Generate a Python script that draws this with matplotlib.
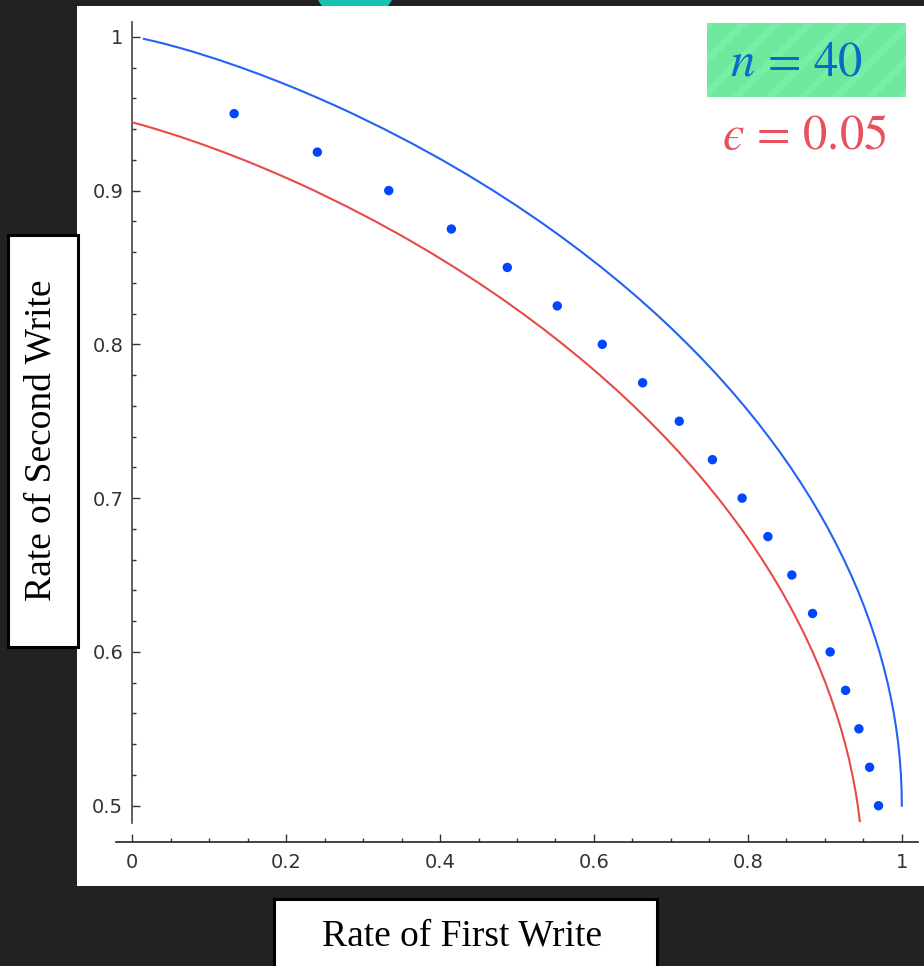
import numpy as np
import matplotlib.pyplot as plt
from matplotlib.patches import Rectangle, Ellipse
from matplotlib.ticker import FixedLocator, FixedFormatter

plt.rcParams['mathtext.fontset'] = 'stix'
plt.rcParams['hatch.linewidth'] = 5

W, H = 924, 966

# boundary of the two-write capacity region (rate of first write, rate of second write)
bound_x = [0.0153, 0.0295, 0.0454, 0.0637, 0.0808, 0.1124, 0.1414, 0.1687, 0.1944,
           0.2189, 0.2423, 0.2648, 0.2864, 0.3274, 0.3659, 0.4022, 0.4365, 0.4690,
           0.4999, 0.5294, 0.5574, 0.5842, 0.6098, 0.6343, 0.6577, 0.6801, 0.7015,
           0.7219, 0.7415, 0.7602, 0.7780, 0.7950, 0.8113, 0.8267, 0.8415, 0.8555,
           0.8687, 0.8813, 0.8932, 0.9044, 0.9149, 0.9248, 0.9341, 0.9427, 0.9507,
           0.9580, 0.9648, 0.9710, 0.9765, 0.9815, 0.9858, 0.9896, 0.9928, 0.9954,
           0.9974, 0.9988, 0.9997, 1.0]
bound_y = [0.9986, 0.997, 0.995, 0.9925, 0.99, 0.985, 0.98, 0.975, 0.97,
           0.965, 0.96, 0.955, 0.95, 0.94, 0.93, 0.92, 0.91, 0.90,
           0.89, 0.88, 0.87, 0.86, 0.85, 0.84, 0.83, 0.82, 0.81,
           0.80, 0.79, 0.78, 0.77, 0.76, 0.75, 0.74, 0.73, 0.72,
           0.71, 0.70, 0.69, 0.68, 0.67, 0.66, 0.65, 0.64, 0.63,
           0.62, 0.61, 0.60, 0.59, 0.58, 0.57, 0.56, 0.55, 0.54,
           0.53, 0.52, 0.51, 0.50]

# same boundary backed off by epsilon = 0.05
eps_x = [0.0, 0.0137, 0.0308, 0.0624, 0.0914, 0.1187, 0.1444, 0.1689, 0.1923,
         0.2148, 0.2364, 0.2774, 0.3159, 0.3522, 0.3865, 0.4190, 0.4499, 0.4794,
         0.5074, 0.5342, 0.5598, 0.5843, 0.6077, 0.6301, 0.6515, 0.6719, 0.6915,
         0.7102, 0.7280, 0.7450, 0.7613, 0.7767, 0.7915, 0.8055, 0.8187, 0.8313,
         0.8432, 0.8544, 0.8649, 0.8748, 0.8841, 0.8927, 0.9007, 0.9080, 0.9148,
         0.9210, 0.9265, 0.9315, 0.9358, 0.9396, 0.9428, 0.9454]
eps_y = [0.9444, 0.9425, 0.94, 0.935, 0.93, 0.925, 0.92, 0.915, 0.91,
         0.905, 0.90, 0.89, 0.88, 0.87, 0.86, 0.85, 0.84, 0.83,
         0.82, 0.81, 0.80, 0.79, 0.78, 0.77, 0.76, 0.75, 0.74,
         0.73, 0.72, 0.71, 0.70, 0.69, 0.68, 0.67, 0.66, 0.65,
         0.64, 0.63, 0.62, 0.61, 0.60, 0.59, 0.58, 0.57, 0.56,
         0.55, 0.54, 0.53, 0.52, 0.51, 0.50, 0.49]

# rates reached by the n = 40 construction
code_x = [0.1325, 0.2406, 0.3334, 0.4147, 0.4874, 0.5523, 0.6108, 0.6632, 0.7108,
          0.7539, 0.7925, 0.8260, 0.8571, 0.8840, 0.9069, 0.9269, 0.9442, 0.9581, 0.9697]
code_y = [0.95, 0.925, 0.9, 0.875, 0.85, 0.825, 0.8, 0.775, 0.75,
          0.725, 0.7, 0.675, 0.65, 0.625, 0.6, 0.575, 0.55, 0.525, 0.5]

x_ticks = [0, 0.2, 0.4, 0.6, 0.8, 1]
x_labels = ['0', '0.2', '0.4', '0.6', '0.8', '1']
y_ticks = [0.5, 0.6, 0.7, 0.8, 0.9, 1]
y_labels = ['0.5', '0.6', '0.7', '0.8', '0.9', '1']


def fig_rect(x0, y0, x1, y1, **kw):
    # rectangle given in pixels from the top-left corner
    return Rectangle((x0 / W, 1 - y1 / H), (x1 - x0) / W, (y1 - y0) / H,
                     transform=fig.transFigure, **kw)


fig = plt.figure(figsize=(W / 100, H / 100), dpi=100, facecolor='#222222')

# teal tab peeking over the top of the panel
fig.add_artist(Ellipse((355 / W, 1 + 20 / H), 84 / W, 84 / H, transform=fig.transFigure,
                       facecolor='#14c3b1', edgecolor='none', zorder=-3))
# white panel behind the plot
fig.add_artist(fig_rect(77, 6, 930, 886, facecolor='white', edgecolor='none', zorder=-2))

ax = fig.add_axes([116 / W, 1 - 842 / H, 802 / W, 820 / H])
ax.set_facecolor('none')

ax.plot(bound_x, bound_y, color='#2361f7', lw=1.5, zorder=3)
ax.plot(eps_x, eps_y, color='#e84a47', lw=1.5, zorder=3)
ax.scatter(code_x, code_y, s=46, color='#0047ff', edgecolors='none', zorder=4)

ax.set_xlim(-0.021, 1.021)
ax.set_ylim(0.4764, 1.0096)

for side in ['top', 'right']:
    ax.spines[side].set_visible(False)
ax.spines['left'].set_position(('data', 0))
ax.spines['left'].set_bounds(0.4888, 1.0096)
ax.spines['left'].set_color('#444444')
ax.spines['bottom'].set_color('#222222')
ax.spines['left'].set_linewidth(1.2)
ax.spines['bottom'].set_linewidth(1.2)

ax.xaxis.set_major_locator(FixedLocator(x_ticks))
ax.xaxis.set_major_formatter(FixedFormatter(x_labels))
ax.xaxis.set_minor_locator(FixedLocator(np.arange(0, 1.001, 0.05)))
ax.yaxis.set_major_locator(FixedLocator(y_ticks))
ax.yaxis.set_major_formatter(FixedFormatter(y_labels))
ax.yaxis.set_minor_locator(FixedLocator(np.arange(0.5, 1.001, 0.02)))

ax.tick_params(which='both', direction='in', colors='#333333', labelsize=14)
ax.tick_params(which='major', length=6, width=1)
ax.tick_params(which='minor', length=3, width=1)
ax.tick_params(axis='x', pad=8)
ax.tick_params(axis='y', pad=6.5)

# parameter tags in the top right corner
fig.add_artist(fig_rect(707, 23, 906, 97, facecolor='#6ee89d', edgecolor='none', zorder=2))
fig.add_artist(fig_rect(707, 23, 906, 97, facecolor='none', edgecolor='#7aeda6',
                        hatch='/', linewidth=0, zorder=2))
fig.text(796 / W, 1 - 61 / H, r'$n\,=\,40$', color='#0b68c9', fontsize=35,
         ha='center', va='center', zorder=3)
fig.text(804 / W, 1 - 135 / H, '$\u03f5\\,=\\,0.05$', color='#e8505c', fontsize=35,
         ha='center', va='center', zorder=3)

# axis titles in framed boxes
fig.add_artist(fig_rect(8, 235, 78, 647, facecolor='white', edgecolor='black',
                        linewidth=2.2, zorder=2))
fig.text(41 / W, 1 - 440 / H, 'Rate of Second Write', rotation=90, fontsize=27,
         family='Liberation Serif', ha='center', va='center', zorder=3)
fig.add_artist(fig_rect(274, 899, 657, 975, facecolor='white', edgecolor='black',
                        linewidth=2.2, zorder=2))
fig.text(462 / W, 1 - 945 / H, 'Rate of First Write', fontsize=27,
         family='Liberation Serif', ha='center', va='baseline', zorder=3)

fig.savefig('out.png', dpi=100, facecolor=fig.get_facecolor())
